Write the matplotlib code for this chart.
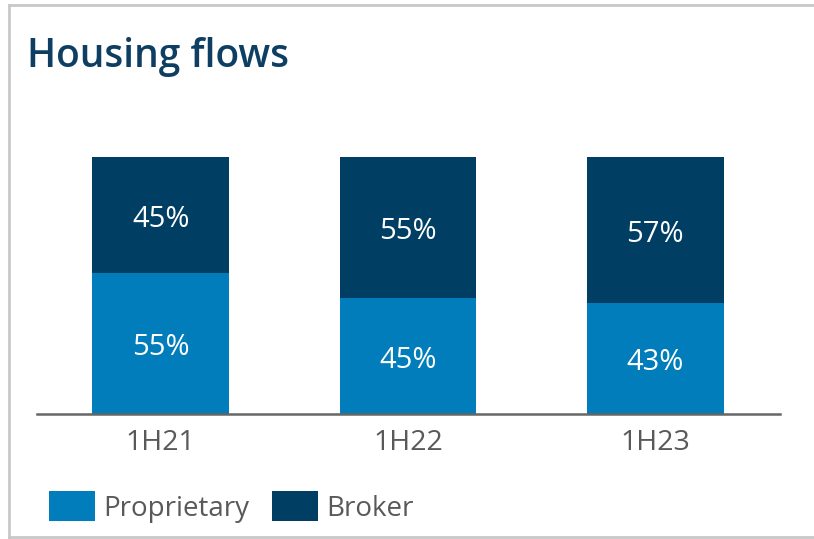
import matplotlib
matplotlib.use("Agg")
import matplotlib.pyplot as plt
from matplotlib.lines import Line2D
import numpy as np

periods = ["1H21", "1H22", "1H23"]
proprietary = [55, 45, 43]
broker = [45, 55, 57]

prop_color = "#007dba"
broker_color = "#003f63"
text_gray = "#595959"

plt.rcParams["font.family"] = ["Open Sans", "DejaVu Sans"]

fig = plt.figure(figsize=(8.14, 5.39), dpi=100)
ax = fig.add_axes([0.0455, 0.2319, 0.913, 0.4768])

x = np.arange(len(periods))
width = 0.553
b1 = ax.bar(x, proprietary, width, color=prop_color, label="Proprietary")
b2 = ax.bar(x, broker, width, bottom=proprietary, color=broker_color, label="Broker")

for bars, vals, bottoms in ((b1, proprietary, [0] * 3), (b2, broker, proprietary)):
    for rect, v, b in zip(bars, vals, bottoms):
        ax.annotate(f"{v}%", (rect.get_x() + rect.get_width() / 2, b + v / 2),
                    xytext=(0, -3), textcoords="offset points",
                    ha="center", va="center", color="white", fontsize=21)

ax.set_xlim(-0.5, 2.505)
ax.set_ylim(0, 100)
ax.set_xticks(x)
ax.set_xticklabels(periods, fontsize=20.5, color=text_gray)
ax.tick_params(axis="x", length=0, pad=11)
ax.set_yticks([])
for side in ("top", "right", "left"):
    ax.spines[side].set_visible(False)
ax.spines["bottom"].set_color("#666666")
ax.spines["bottom"].set_linewidth(1.8)

fig.legend(handles=[b1, b2], labels=["Proprietary", "Broker"],
           loc="center left", bbox_to_anchor=(49 / 814, 1 - 507 / 539),
           bbox_transform=fig.transFigure, ncol=2, frameon=False,
           fontsize=20, labelcolor=text_gray, handlelength=1.65, handleheight=1.25,
           handletextpad=0.32, columnspacing=0.8, borderaxespad=0, borderpad=0)

fig.text(27 / 814, 1 - 67 / 539, "Housing flows", fontsize=28, fontweight="semibold",
         color="#0e3f62", ha="left", va="baseline")

# light frame on the left, top and bottom
frame = dict(color="#c8c8c8", linewidth=2, transform=fig.transFigure)
fig.add_artist(Line2D([9 / 814, 9 / 814], [1 - 4.5 / 539, 1 - 536.5 / 539], **frame))
fig.add_artist(Line2D([9 / 814, 1], [1 - 4.5 / 539, 1 - 4.5 / 539], **frame))
fig.add_artist(Line2D([9 / 814, 1], [1 - 536.5 / 539, 1 - 536.5 / 539], **frame))

fig.savefig("out.png", dpi=100)
